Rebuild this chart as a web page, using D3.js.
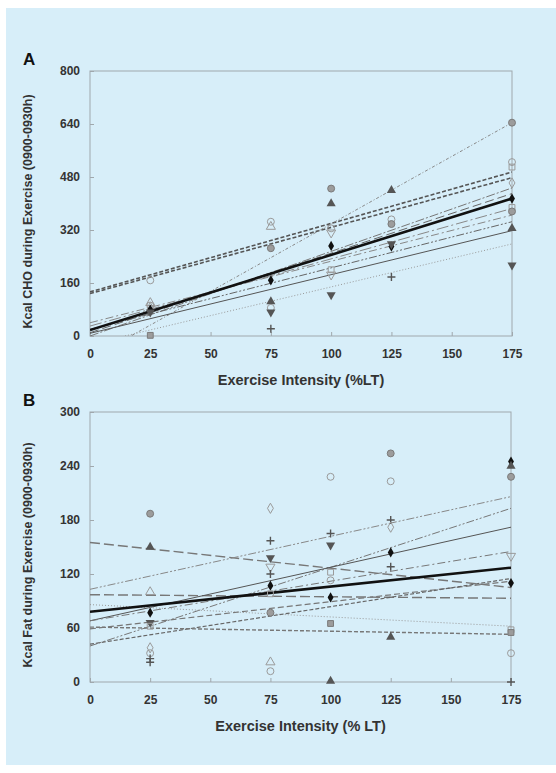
<!DOCTYPE html>
<html>
<head>
<meta charset="utf-8">
<script src="https://cdn.jsdelivr.net/npm/d3@7"></script>
<style>
  body { margin: 0; background: #fff; }
  text { font-family: "Liberation Sans", Arial, sans-serif; }
</style>
</head>
<body>
<script>
// ---- data ----
var xTicks = [0, 25, 50, 75, 100, 125, 150, 175];
var choTicks = [0, 160, 320, 480, 640, 800];
var fatTicks = [0, 60, 120, 180, 240, 300];

// regression lines: value at 0 %LT and at 175 %LT
var choLineStart = [18, 133, 128, -69, 0, 10, 40, 20, 8, -25, 30];
var choLineEnd   = [415, 495, 478, 644, 447, 430, 365, 345, 318, 278, 385];

var fatLineStart = [78, 155, 97, 103, 40, 68, 68, 86, 59, 42, 61];
var fatLineEnd   = [127, 105, 93, 206, 193, 172, 145, 62, 112, 115, 53];

// individual points
var choPointX = [25, 25, 25, 25, 25, 25, 25,
                 75, 75, 75, 75, 75, 75, 75, 75,
                 100, 100, 100, 100, 100, 100, 100, 100,
                 125, 125, 125, 125, 125, 125,
                 175, 175, 175, 175, 175, 175, 175, 175, 175];
var choPointY = [168, 100, 92, 86, 80, 72, 2,
                 345, 330, 265, 168, 104, 85, 72, 22,
                 445, 400, 325, 312, 272, 200, 185, 124,
                 440, 352, 338, 270, 278, 178,
                 644, 525, 510, 462, 415, 388, 376, 325, 214];
var choPointKind = ["oc", "ot", "oc", "od", "fd", "fv", "gs",
                    "oc", "ot", "gc", "fd", "ft", "oc", "fv", "p",
                    "gc", "ft", "oc", "ov", "fd", "os", "ov", "fv",
                    "ft", "oc", "gc", "fd", "fv", "p",
                    "gc", "oc", "os", "od", "fd", "os", "gc", "st", "fv"];

var fatPointX = [25, 25, 25, 25, 25, 25, 25, 25, 25, 25,
                 75, 75, 75, 75, 75, 75, 75, 75, 75, 75,
                 100, 100, 100, 100, 100, 100, 100, 100,
                 125, 125, 125, 125, 125, 125, 125,
                 175, 175, 175, 175, 175, 175, 175, 175, 175];
var fatPointY = [187, 150, 100, 77, 66, 62, 38, 32, 26, 22,
                 193, 157, 138, 128, 120, 107, 98, 77, 22, 12,
                 228, 165, 152, 122, 113, 94, 65, 1,
                 254, 223, 180, 172, 144, 128, 50,
                 245, 240, 228, 140, 110, 58, 55, 32, 0];
var fatPointKind = ["gc", "ft", "ot", "fd", "fv", "os", "od", "oc", "p", "p",
                    "od", "p", "fv", "ov", "p", "fd", "os", "gc", "ot", "oc",
                    "oc", "p", "fv", "os", "oc", "fd", "gs", "ft",
                    "gc", "oc", "p", "od", "fd", "p", "ft",
                    "fd", "ft", "gc", "ov", "fd", "os", "gs", "oc", "p"];

// ---- drawing ----
var W = 556, H = 773;
var svg = d3.select("body").append("svg").attr("width", W).attr("height", H);

svg.append("rect").attr("x", 6).attr("y", 8).attr("width", W - 6).attr("height", 757)
    .attr("fill", "#d7eef9");

// line styles per regression line index
var lineStyles = {
  cho: [
    {c: "#111", w: 2.6, d: null},
    {c: "#555", w: 1.6, d: "4,2"},
    {c: "#555", w: 1.6, d: "4,2"},
    {c: "#888", w: 1, d: "3,2,1,2"},
    {c: "#777", w: 1, d: "9,2,2,2"},
    {c: "#666", w: 1, d: "9,4"},
    {c: "#888", w: 1, d: "8,3,2,3"},
    {c: "#666", w: 1, d: "8,2,2,2,2,2"},
    {c: "#555", w: 1, d: null},
    {c: "#999", w: 1, d: "1,2"},
    {c: "#888", w: 1, d: "12,3,2,3"}
  ],
  fat: [
    {c: "#111", w: 2.6, d: null},
    {c: "#777", w: 1.4, d: "10,4"},
    {c: "#777", w: 1.4, d: "10,4"},
    {c: "#888", w: 1, d: "8,2,2,2,2,2"},
    {c: "#777", w: 1, d: "8,2,2,2,2,2"},
    {c: "#555", w: 1, d: null},
    {c: "#777", w: 1, d: "8,3,2,3"},
    {c: "#999", w: 1, d: "1,2"},
    {c: "#777", w: 1.2, d: "6,3"},
    {c: "#666", w: 1.2, d: "4,2"},
    {c: "#777", w: 1.4, d: "4,2"}
  ]
};

function drawPanel(opt) {
  var x = d3.scaleLinear().domain([0, 175]).range([opt.left, opt.right]);
  var y = d3.scaleLinear().domain([0, opt.max]).range([opt.bottom, opt.top]);
  var g = svg.append("g");

  g.append("clipPath").attr("id", opt.id + "clip")
    .append("rect").attr("x", opt.left).attr("y", opt.top)
    .attr("width", opt.right - opt.left).attr("height", opt.bottom - opt.top);

  g.append("rect").attr("x", opt.left).attr("y", opt.top)
    .attr("width", opt.right - opt.left).attr("height", opt.bottom - opt.top)
    .attr("fill", "none").attr("stroke", "#a0a8ad").attr("stroke-width", 1);

  var xAxis = d3.axisBottom(x).tickValues(xTicks).tickSizeInner(-4).tickSizeOuter(0).tickPadding(13);
  var yAxis = d3.axisLeft(y).tickValues(opt.ticks).tickSizeInner(-4).tickSizeOuter(0).tickPadding(10);

  var ax = g.append("g").attr("transform", "translate(0," + opt.bottom + ")").call(xAxis);
  var ay = g.append("g").attr("transform", "translate(" + opt.left + ",0)").call(yAxis);
  [ax, ay].forEach(function(a) {
    a.select(".domain").remove();
    a.selectAll(".tick line").attr("stroke", "#a0a8ad");
    a.selectAll(".tick text").attr("fill", "#333").style("font-size", "12px").style("font-weight", "bold");
  });

  var line = d3.line().x(function(d) { return x(d[0]); }).y(function(d) { return y(d[1]); });
  var lg = g.append("g").attr("clip-path", "url(#" + opt.id + "clip)");
  // thin lines first, bold line on top
  var order = d3.range(opt.start.length).slice(1).concat([0]);
  order.forEach(function(i) {
    var st = opt.styles[i];
    lg.append("path")
      .datum([[0, opt.start[i]], [175, opt.end[i]]])
      .attr("d", line)
      .attr("fill", "none")
      .attr("stroke", st.c)
      .attr("stroke-width", st.w)
      .attr("stroke-dasharray", st.d);
  });

  var sym = {
    c: d3.symbol().type(d3.symbolCircle).size(38),
    t: d3.symbol().type(d3.symbolTriangle).size(36),
    d: d3.symbol().type(d3.symbolDiamond).size(30),
    s: d3.symbol().type(d3.symbolSquare).size(34),
    st: d3.symbol().type(d3.symbolStar).size(40)
  };
  var pg = g.append("g");
  opt.px.forEach(function(xv, i) {
    var k = opt.pk[i];
    var cx = x(xv), cy = y(opt.py[i]);
    var el;
    if (k === "p") {
      el = pg.append("path").attr("d", "M-4,0H4M0,-4V4")
        .attr("stroke", "#555").attr("stroke-width", 1.4).attr("fill", "none");
    } else {
      var shape = k.slice(1);
      var p;
      if (shape === "v") p = sym.t(); else p = sym[shape]();
      el = pg.append("path").attr("d", p);
      if (shape === "v") el.attr("data-rot", 1);
      var fill = k[0];
      if (fill === "o") el.attr("fill", "none").attr("stroke", "#9a9a9a").attr("stroke-width", 1);
      else if (fill === "g") el.attr("fill", "#9c9c9c").attr("stroke", "#7a7a7a").attr("stroke-width", 1);
      else el.attr("fill", k === "fd" ? "#111" : "#555").attr("stroke", "none");
    }
    el.attr("transform", "translate(" + cx + "," + cy + ")" + (k.slice(1) === "v" ? " rotate(180)" : ""));
  });

  g.append("text").attr("x", 23).attr("y", opt.top - 6)
    .style("font-size", "17px").style("font-weight", "bold").attr("fill", "#111").text(opt.letter);

  g.append("text")
    .attr("transform", "translate(32," + ((opt.top + opt.bottom) / 2 + 8) + ") rotate(-90)")
    .attr("text-anchor", "middle").style("font-size", "12.5px").style("font-weight", "bold")
    .attr("fill", "#333").text(opt.yTitle);

  g.append("text").attr("x", (opt.left + opt.right) / 2).attr("y", opt.bottom + 49)
    .attr("text-anchor", "middle").style("font-size", "14.5px").style("font-weight", "bold")
    .attr("fill", "#333").text(opt.xTitle);
}

drawPanel({
  id: "a", letter: "A", left: 90, right: 512, top: 71, bottom: 336, max: 800, ticks: choTicks,
  start: choLineStart, end: choLineEnd, styles: lineStyles.cho,
  px: choPointX, py: choPointY, pk: choPointKind,
  yTitle: "Kcal CHO during Exercise (0900-0930h)", xTitle: "Exercise Intensity (%LT)"
});

drawPanel({
  id: "b", letter: "B", left: 90, right: 511, top: 412, bottom: 682, max: 300, ticks: fatTicks,
  start: fatLineStart, end: fatLineEnd, styles: lineStyles.fat,
  px: fatPointX, py: fatPointY, pk: fatPointKind,
  yTitle: "Kcal Fat during Exercise (0900-0930h)", xTitle: "Exercise Intensity (% LT)"
});
</script>
</body>
</html>
